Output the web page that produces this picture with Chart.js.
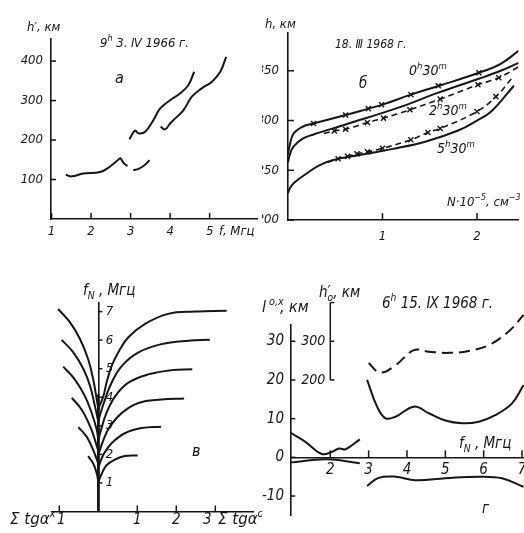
<!DOCTYPE html>
<html><head><meta charset="utf-8">
<script src="https://cdn.jsdelivr.net/npm/chart.js@4.4.1/dist/chart.umd.min.js"></script>
<style>
html,body{margin:0;padding:0;background:#fff;}
#wrap{position:relative;width:524px;height:533px;overflow:hidden;background:#fff;}
canvas{position:absolute;}
</style></head><body>
<div id="wrap">
<canvas id="ca" width="262" height="250" style="left:0;top:0;"></canvas>
<canvas id="cb" width="262" height="250" style="left:262px;top:0;"></canvas>
<canvas id="cv" width="262" height="283" style="left:0;top:250px;"></canvas>
<canvas id="cg" width="262" height="283" style="left:262px;top:250px;"></canvas>
</div>
<script>
// ---------- Panel а : h'(f), 9h 3.IV 1966 ----------
const aXTicks = [1,2,3,4,5];
const aYTicks = [100,200,300,400];
const aC1F = [1.36,1.51,1.8,2.23,2.48,2.69,2.74,2.82,2.92];
const aC1H = [112,108,115,119,133,150,154,142,134];
const aC2F = [3.07,3.2,3.35,3.48];
const aC2H = [124,127,136,149];
const aC3F = [2.97,3.11,3.2,3.37,3.58,3.75,4.0,4.25,4.46,4.61];
const aC3H = [202,224,217,221,251,280,301,318,339,373];
const aC4F = [3.76,3.87,4.0,4.13,4.34,4.55,4.8,5.06,5.27,5.42];
const aC4H = [234,227,242,255,276,310,331,348,373,411];

// ---------- Panel б : h(N), 18.III 1968 ----------
const bXTicks = [1,2];
const bYTicks = [200,250,300,350];
const b0N = [0,0.02,0.06,0.16,0.27,0.61,0.85,1.0,1.3,1.6,2.02,2.25,2.44];
const b0H = [266,276,287,294,297,305.5,312,316,326,335,348,357,370];
const b0cN = [0.27,0.61,0.85,0.99,1.3,1.59,2.02];
const b0cH = [297,305.5,312,315.8,326,335,348];
const b2N = [0,0.02,0.06,0.16,0.27,0.61,1.2,1.59,2.02,2.25,2.44];
const b2H = [258,266,274,282,286,296,314,328,342,350,358];
const b2dN = [0.38,0.49,0.61,0.84,1.01,1.29,1.61,2.01,2.23,2.44];
const b2dH = [287,289.6,291.3,298,302.4,310.8,321.5,336,343,354];
const b2cN = [0.49,0.61,0.84,1.01,1.29,1.61,2.01,2.23];
const b2cH = [289.6,291.3,298,302.4,310.8,321.5,336,343];
const b5N = [0,0.02,0.06,0.2,0.33,0.47,0.77,1.11,1.46,1.8,2.0,2.15,2.39];
const b5H = [227,232,237,247,255,260,265.5,271.5,279,290,300,309,335];
const b5dN = [0.42,0.53,0.63,0.73,0.84,1.0,1.3,1.48,1.61,2.0,2.2,2.37];
const b5dH = [258,261.5,264,266.5,268.5,272,280.6,288,292,309,324,342.7];
const b5cN = [0.53,0.63,0.73,0.84,1.0,1.3,1.48,1.61,2.0,2.2];
const b5cH = [261.5,264,266.5,268.5,272,280.6,288,292,309,324];

// ---------- Panel в : fN vs Σ tgα ----------
const vXTicks = [-1,1,2,3];
const vXLabels = ['1','1','2','3'];
const vYTicks = [1,2,3,4,5,6,7];
const vTrunkX = [0,0];
const vTrunkF = [0,4.1];
const vR2X = [0,0.09,0.21,0.43,0.68,1.01];            const vR2F = [1.05,1.33,1.62,1.82,1.94,1.96];
const vR3X = [0,0.15,0.34,0.68,1.11,1.61];            const vR3F = [1.56,2.04,2.39,2.74,2.92,2.97];
const vR4X = [0,0.13,0.3,0.6,1.03,1.62,2.2];          const vR4F = [2.0,2.5,2.98,3.45,3.8,3.92,3.96];
const vR5X = [0,0.07,0.21,0.43,0.77,1.28,1.88,2.41];  const vR5F = [2.5,2.86,3.45,4.03,4.51,4.8,4.95,4.98];
const vR6X = [0,0.07,0.17,0.34,0.6,1.03,1.62,2.31,2.86]; const vR6F = [3.15,3.5,3.92,4.51,5.09,5.57,5.86,5.98,6.01];
const vR7X = [0,0.13,0.21,0.34,0.51,0.77,1.2,1.79,2.48,3.29]; const vR7F = [3.6,4.04,4.51,5.09,5.57,6.1,6.57,6.92,7.0,7.03];
const vL2X = [0,-0.04,-0.13,-0.26];                   const vL2F = [1.05,1.33,1.68,1.94];
const vL3X = [0,-0.13,-0.3,-0.51];                    const vL3F = [1.68,2.15,2.62,2.95];
const vL4X = [0,-0.085,-0.21,-0.43,-0.68];            const vL4F = [2.1,2.5,2.98,3.57,3.98];
const vL5X = [0,-0.04,-0.17,-0.34,-0.6,-0.9];         const vL5F = [2.5,2.86,3.45,4.03,4.62,5.07];
const vL6X = [0,-0.085,-0.21,-0.38,-0.64,-0.94];      const vL6F = [3.15,3.68,4.39,4.98,5.57,6.01];
const vL7X = [0,-0.04,-0.13,-0.26,-0.47,-0.73,-1.03]; const vL7F = [3.6,3.92,4.62,5.33,6.04,6.63,7.09];

// ---------- Panel г : l(fN), h'o(fN), 6h 15.IX 1968 ----------
const gXTicks = [2,3,4,5,6,7];
const gYTicks = [-10,0,10,20,30];
const gYLabels = ['-10','0','10','20','30'];
const gHTicks = [200,300,400];
const gHLabels = ['200','300',''];
const gUpX = [0.957,1.35,1.78,2.05,2.23,2.40,2.77];   const gUpY = [6.4,4.0,0.85,1.45,2.3,2.1,4.65];
const gLoX = [0.957,1.91,2.77];                        const gLoY = [-1.3,-0.5,-1.55];
const gMidX = [2.96,3.22,3.44,3.70,4.18,4.57,5.0,5.44,5.87,6.30,6.74,7.04];
const gMidY = [20.0,13.1,10.1,10.5,13.1,11.4,9.5,8.8,9.2,10.9,13.95,18.7];
const gBotX = [2.96,3.26,3.70,4.22,5.0,5.87,6.48,7.04];
const gBotY = [-7.4,-5.3,-5.0,-5.9,-5.4,-5.0,-5.4,-7.6];
const gDashX = [3.0,3.30,3.70,4.18,4.57,5.09,5.61,6.13,6.65,7.04];
const gDashH = [244,219,238,277,273,270,275,290,325,368];

// ---------- helpers ----------
const INK = '#161616';
const FF = "'Liberation Sans Narrow','DejaVu Sans Condensed','Liberation Sans',sans-serif";
const FW = "'DejaVu Sans','Liberation Sans',sans-serif";
const EXTRAS = {};

function pts(xs, ys){ return xs.map((x,i)=>({x:x, y:ys[i]})); }
function curve(xs, ys, o){
  return Object.assign({type:'scatter', data:pts(xs,ys), showLine:true, borderColor:INK,
    borderWidth:2, pointRadius:0, tension:0.4, fill:false}, o||{});
}
function crosses(xs, ys){
  return {type:'scatter', data:pts(xs,ys), showLine:false, pointStyle:'crossRot',
    pointRadius:3.6, borderColor:INK, pointBorderColor:INK, pointBorderWidth:1.4, borderWidth:1.4};
}
function axis(min, max, pos, extra){
  return Object.assign({type:'linear', min:min, max:max, position:pos,
    grid:{display:false, drawTicks:false}, ticks:{display:false},
    border:{display:true, color:INK, width:1.6},
    afterFit:function(s){ if (s.isHorizontal()) s.height = 0; else s.width = 0; }
  }, extra||{});
}
function drawRich(ctx, t){
  ctx.save(); ctx.fillStyle = INK; ctx.textBaseline = 'alphabetic'; ctx.textAlign = 'left';
  let x = t.x; const fam = t.family || FF; const S = t.size;
  t.parts.forEach(function(p){
    if (typeof p === 'string') p = {t:p};
    const sz = (p.sup || p.sub) ? S*(p.k || 0.68) : S;
    ctx.font = 'italic ' + sz + 'px ' + fam;
    x += p.dx || 0;
    const y = t.y + (p.sup ? -S*0.45 : (p.sub ? S*0.24 : 0));
    ctx.fillText(p.t, x, y);
    x += ctx.measureText(p.t).width;
  });
  ctx.restore();
}
const axisMarks = {
  id:'axisMarks',
  afterDatasetsDraw:function(chart){
    const ex = EXTRAS[chart.canvas.id]; if (!ex) return;
    const ctx = chart.ctx, ca = chart.chartArea;
    ex.marks.forEach(function(it){
      const s = chart.scales[it.scale];
      const horiz = s.isHorizontal();
      const base = it.crossScale ? chart.scales[it.crossScale].getPixelForValue(it.crossValue)
                                 : (horiz ? ca.bottom : ca.left);
      ctx.save();
      ctx.strokeStyle = INK; ctx.fillStyle = INK; ctx.lineWidth = 1.5;
      if (it.spine){
        const p0 = s.getPixelForValue(it.values[0]), p1 = s.getPixelForValue(it.values[it.values.length-1]);
        ctx.beginPath();
        if (horiz){ ctx.moveTo(p0,base); ctx.lineTo(p1,base); } else { ctx.moveTo(base,p0); ctx.lineTo(base,p1); }
        ctx.stroke();
      }
      ctx.font = 'italic ' + it.size + 'px ' + FF;
      ctx.textAlign = it.align; ctx.textBaseline = it.baseline;
      it.values.forEach(function(v, i){
        const p = s.getPixelForValue(v);
        ctx.beginPath();
        if (horiz){ ctx.moveTo(p, base); ctx.lineTo(p, base - it.tickLen); }
        else { ctx.moveTo(base, p); ctx.lineTo(base + it.tickLen, p); }
        ctx.stroke();
        const lab = it.labels[i];
        if (lab){
          const sh = it.shift ? it.shift[i] : 0;
          if (horiz) ctx.fillText(lab, p + sh, base + it.dy);
          else ctx.fillText(lab, base + it.dx, p + sh);
        }
      });
      ctx.restore();
    });
    ex.texts.forEach(function(t){ drawRich(ctx, t); });
  }
};
function makeChart(id, datasets, scales, pad){
  return new Chart(document.getElementById(id), {
    type:'scatter',
    data:{datasets:datasets},
    options:{responsive:false, animation:false, events:[],
      layout:{padding:pad}, scales:scales,
      plugins:{legend:{display:false}, tooltip:{enabled:false}}},
    plugins:[axisMarks]
  });
}
const hm = function(d){ return [d,{t:'h',sup:true},'30',{t:'m',sup:true}]; };

// ---------- Panel а ----------
EXTRAS.ca = {
  marks:[
    {scale:'x', values:aXTicks, labels:aXTicks.map(String), tickLen:6, dy:16, align:'center', baseline:'alphabetic', size:13},
    {scale:'y', values:aYTicks, labels:aYTicks.map(String), tickLen:5, dx:-8, align:'right', baseline:'middle', size:13}
  ],
  texts:[
    {x:27, y:31, size:13, parts:['h','′',', км']},
    {x:100, y:47, size:13, parts:['9',{t:'h',sup:true},' 3. Ⅳ 1966 г.']},
    {x:115, y:83, size:16, parts:['а']},
    {x:219, y:235, size:13, parts:['f, Мгц']}
  ]
};
makeChart('ca', [curve(aC1F,aC1H), curve(aC2F,aC2H), curve(aC3F,aC3H), curve(aC4F,aC4H)],
  {x:axis(0.985, 6.2, 'bottom'), y:axis(0, 456, 'left')},
  {left:51, top:39, right:5, bottom:31});

// ---------- Panel б ----------
EXTRAS.cb = {
  marks:[
    {scale:'x', values:bXTicks, labels:bXTicks.map(String), tickLen:7, dy:20, align:'center', baseline:'alphabetic', size:13},
    {scale:'y', values:bYTicks, labels:bYTicks.map(String), tickLen:6, dx:-9, align:'right', baseline:'middle', size:13}
  ],
  texts:[
    {x:3, y:28, size:13, parts:['h, км']},
    {x:73, y:48, size:12, parts:['18. Ⅲ 1968 г.']},
    {x:97, y:88, size:15, parts:['б']},
    {x:147, y:75, size:14, parts:hm('0')},
    {x:167, y:115, size:14, parts:hm('2')},
    {x:175, y:153, size:14, parts:hm('5')},
    {x:185, y:206, size:13, parts:['N·10',{t:'−5',sup:true},', см',{t:'−3',sup:true}]}
  ]
};
const dashB = {borderDash:[6,4], borderWidth:1.6};
makeChart('cb', [
    curve(b0N,b0H), crosses(b0cN,b0cH),
    curve(b2N,b2H), curve(b2dN,b2dH,dashB), crosses(b2cN,b2cH),
    curve(b5N,b5H), curve(b5dN,b5dH,dashB), crosses(b5cN,b5cH)
  ],
  {x:axis(0, 2.44, 'bottom'), y:axis(200, 388, 'left')},
  {left:26, top:33, right:0, bottom:30});

// ---------- Panel в ----------
EXTRAS.cv = {
  marks:[
    {scale:'x', values:vXTicks, labels:vXLabels, tickLen:6, dy:12.5, align:'center', baseline:'alphabetic', size:15, shift:[2,0,0,-8]},
    {scale:'y', crossScale:'x', crossValue:0, values:vYTicks, labels:vYTicks.map(String), tickLen:4, dx:7.5, align:'left', baseline:'middle', size:13}
  ],
  texts:[
    {x:83, y:45, size:15, parts:['f',{t:'N',sub:true},' , Мгц']},
    {x:192, y:206, size:16, parts:['в']},
    {x:10, y:274, size:15, family:FW, parts:['Σ tgα',{t:'x',sup:true}]},
    {x:218, y:274, size:15, family:FW, parts:['Σ tgα',{t:'o',sup:true}]}
  ]
};
makeChart('cv', [
    curve(vTrunkX, vTrunkF, {borderWidth:2.6, tension:0}),
    curve(vR2X,vR2F), curve(vR3X,vR3F), curve(vR4X,vR4F), curve(vR5X,vR5F), curve(vR6X,vR6F), curve(vR7X,vR7F),
    curve(vL2X,vL2F), curve(vL3X,vL3F), curve(vL4X,vL4F), curve(vL5X,vL5F), curve(vL6X,vL6F), curve(vL7X,vL7F)
  ],
  {x:axis(-1.162, 3.967, 'bottom'), y:axis(0, 7.3, {x:0})},
  {left:53, top:53, right:9, bottom:21.5});

// ---------- Panel г ----------
EXTRAS.cg = {
  marks:[
    {scale:'x', crossScale:'y', crossValue:0, values:gXTicks, labels:gXTicks.map(String), tickLen:7, dy:16.7, align:'center', baseline:'alphabetic', size:15},
    {scale:'y', values:gYTicks, labels:gYLabels, tickLen:5, dx:-6.3, align:'right', baseline:'middle', size:15},
    {scale:'y2', crossScale:'x', crossValue:2, values:gHTicks, labels:gHLabels, tickLen:4, spine:true, dx:-5, align:'right', baseline:'middle', size:14}
  ],
  texts:[
    {x:0, y:62, size:16, parts:['l',{t:'o,x',sup:true,dx:3},{t:', км',dx:-4}]},
    {x:57, y:47, size:15, parts:['h','′',{t:'o',sub:true,dx:-3},', км']},
    {x:120, y:58, size:15, parts:['6',{t:'h',sup:true},' 15. Ⅸ 1968 г.']},
    {x:197, y:198, size:15, parts:['f',{t:'N',sub:true},' , Мгц']},
    {x:220, y:263, size:15, parts:['г']}
  ]
};
makeChart('cg', [
    curve(gUpX,gUpY), curve(gLoX,gLoY), curve(gMidX,gMidY), curve(gBotX,gBotY),
    curve(gDashX,gDashH,{yAxisID:'y2', borderDash:[11,6], clip:false})
  ],
  {x:axis(0.957, 7.052, {y:0}), y:axis(-14.9, 34.2, 'left'), y2:axis(-149, 342, 'right', {display:false})},
  {left:28.3, top:75, right:0, bottom:18});
</script>
</body></html>
